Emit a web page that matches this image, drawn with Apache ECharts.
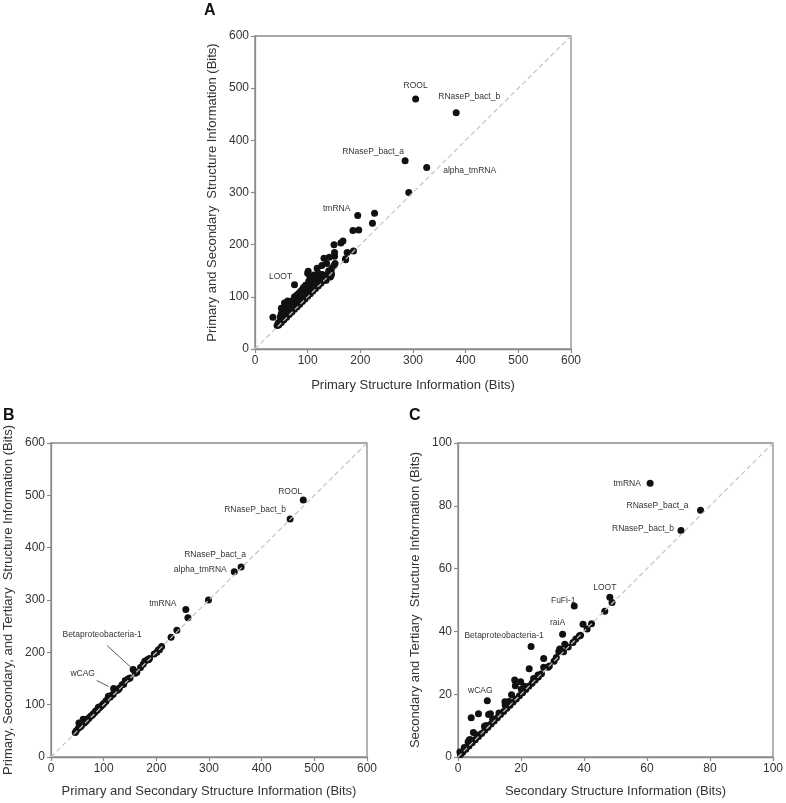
<!DOCTYPE html>
<html>
<head>
<meta charset="utf-8">
<script src="https://cdn.jsdelivr.net/npm/echarts@6/dist/echarts.min.js"></script>
<style>html,body{margin:0;padding:0;background:#fff}#c{width:786px;height:803px}</style>
</head>
<body>
<div id="c"></div>
<script>
// ---------- DATA ----------
const ticks600 = [0, 100, 200, 300, 400, 500, 600];
const ticks100 = [0, 20, 40, 60, 80, 100];

// Panel A: x = primary, y = primary + secondary
const aLabeled = [
  ['ROOL', 305, 479], ['RNaseP_bact_b', 382, 453], ['RNaseP_bact_a', 285, 361],
  ['alpha_tmRNA', 326, 348], ['tmRNA', 195, 256], ['LOOT', 75, 123]
];
const aPoints = [
  [292,300],[227,260],[223,241],[186,227],[197,228],[150,200],[163,203],[167,207],
  [175,185],[187,188],[172,171],[151,185],[151,178],[131,174],[141,176],[150,160],
  [152,164],[136,164],[127,160],[118,155],[101,149],[34,61],
  [104,140],[108,135],[112,142],[115,130],[120,138],[125,135],[128,143],[132,140],
  [135,132],[140,145],[143,138],[118,128],[110,125],[102,130],[106,120],[96,122],
  [92,118],[98,110],[88,112],[84,108],[80,104],[85,100],[78,96],[75,100],[70,92],
  [66,90],[62,92],[60,85],[64,80],[58,78],[55,75],[52,70],[50,68],[48,62],[55,65],
  [60,70],[68,78],[72,85],[80,90],[88,96],[95,102],[102,108],[108,115],[115,120],
  [122,125],[130,132],[138,140],[145,145],
  [45,46],[50,51],[55,56],[60,61],[65,66],[70,71],[75,76],[80,81],[85,86],[90,91],
  [95,96],[100,101],[105,106],[110,111],[115,116],[120,121],[125,126],[130,131],
  [135,136],[140,142],[172,173],
  [48,55],[52,58],[57,62],[62,68],[67,72],[72,78],[77,82],[82,88],[87,92],[92,98],
  [97,103],[103,110],[112,118],[118,125],[124,130],[133,138],[140,150],[146,155],
  [56,88],[62,86],[50,78],[54,72],[70,88],[76,95],[90,108],[95,112],[105,126],
  [110,135],[100,145],[120,145],[145,142],[42,45],[44,50]
];

// Panel B: x = primary + secondary, y = primary + secondary + tertiary
const bLabeled = [
  ['ROOL', 479, 491], ['RNaseP_bact_b', 454, 455], ['RNaseP_bact_a', 361, 363],
  ['alpha_tmRNA', 348, 354], ['tmRNA', 256, 282], ['Betaproteobacteria-1', 156, 167],
  ['wCAG', 119, 131]
];
const bPoints = [
  [299,300],[260,266],[228,229],[239,242],[206,205],[201,200],[187,188],[178,183],
  [183,186],[163,162],[160,160],[109,116],[141,146],[146,149],[135,138],[130,132],
  [125,127],[115,118],[100,102],[95,97],[90,95],[85,88],[80,82],[75,78],[70,73],
  [65,71],[61,72],[53,65],[58,60],[52,55],[48,50],[46,47],[68,70],[72,74],[78,80],
  [83,85],[88,90],[92,94],[98,100],[104,106],[112,114],[118,120],[128,129],[138,139],
  [150,151],[170,171],[175,177],[185,186],[196,197],[204,205],[210,211],[105,108],
  [56,58],[63,65],[66,68]
];

// Panel C: x = secondary, y = secondary + tertiary
const cLabeled = [
  ['tmRNA', 61, 87.2], ['RNaseP_bact_a', 77, 78.6], ['RNaseP_bact_b', 70.8, 72.1],
  ['LOOT', 48.2, 50.9], ['FuFi-1', 36.9, 48.1], ['raiA', 33.2, 39.1],
  ['Betaproteobacteria-1', 23.2, 35.2], ['wCAG', 9.3, 17.9]
];
const cPoints = [
  [48.9,49.2],[46.6,46.4],[39.7,42.3],[42.4,42.4],[41,40.8],[38.9,38.8],[37.4,37.6],
  [33.9,35.9],[32.3,34.4],[32,33.6],[31.2,31.7],[27.2,31.4],[27.2,28.6],[28.6,28.6],
  [25.4,26.1],[22.6,28.1],[18,24.5],[18.2,22.7],[19.9,24],[20.1,21.6],[17,19.8],
  [16.2,17.7],[14.9,17.6],[9.7,13.5],[10.3,13.8],[6.5,13.8],[4.2,12.5],[4.9,7.8],
  [8.4,9.8],[3.6,5.5],[3.2,4.8],[0.6,1.6],[2.3,2.9],
  [0.8,0.8],[1.5,1.5],[2.5,2.5],[3.5,3.5],[4.5,4.5],[5.5,5.5],[6.5,6.5],[7.5,7.5],
  [8.5,8.5],[9.5,9.5],[10.5,10.5],[11.5,11.5],[12.5,12.5],[13.5,13.5],[14.5,14.5],
  [15.5,15.5],[16.5,16.5],[17.5,17.5],[18.5,18.5],[19.5,19.5],[20.5,20.5],[21.5,21.5],
  [22.5,22.5],[23.5,23.5],[24.5,24.5],[25.5,25.5],[26.5,26.5],[29,29],[30.5,30.5],
  [33.5,33.5],[35,35],[36.5,36.5],[38.5,38.5],
  [2,3],[4,5.5],[6,7],[9,10],[11,12],[13,14],[15,16.5],[16,17],[21,22.5],[24,25]
];

// ---------- STYLE / LAYOUT ----------
const FONT = 'Liberation Sans, Arial, sans-serif';
const labelOffsets = {
  a: { 'ROOL':[0,-13], 'RNaseP_bact_b':[13,-16], 'RNaseP_bact_a':[-32,-9],
       'alpha_tmRNA':[43,3], 'tmRNA':[-21,-7], 'LOOT':[-14,-8] },
  b: { 'ROOL':[-13,-8], 'RNaseP_bact_b':[-35,-9], 'RNaseP_bact_a':[-26,-12],
       'alpha_tmRNA':[-34,-2], 'tmRNA':[-23,-6], 'Betaproteobacteria-1':[-31,-35],
       'wCAG':[-31,-15] },
  c: { 'tmRNA':[-23,0], 'RNaseP_bact_a':[-43,-5], 'RNaseP_bact_b':[-38,-2],
       'LOOT':[-5,-10], 'FuFi-1':[-11,-5], 'raiA':[-5,-12],
       'Betaproteobacteria-1':[-27,-11], 'wCAG':[-7,-10] }
};
// leader lines (panel B): pixel offsets of start (from label centre) and end (from point)
const leaderStyle = {
  'Betaproteobacteria-1': { start: [5, 11], end: [-2, -2] },
  'wCAG': { start: [14, 7], end: [-5, -2] }
};

const grids = [
  { left: 255, top: 36, width: 316, height: 313 },
  { left: 51, top: 443, width: 316, height: 314 },
  { left: 458, top: 443, width: 316, height: 314 }
];
const axisColor = '#8a8a8a';

function mkAxis(idx, ticks, name, gap) {
  const max = ticks[ticks.length - 1];
  return {
    type: 'value', gridIndex: idx, min: ticks[0], max: max,
    interval: ticks[1] - ticks[0],
    name: name, nameLocation: 'middle', nameGap: gap,
    nameTextStyle: { fontFamily: FONT, fontSize: 13, color: '#333' },
    axisLine: { show: true, onZero: false, lineStyle: { color: axisColor, width: 1.3 } },
    axisTick: { show: true, length: 4, lineStyle: { color: axisColor, width: 1.2 } },
    axisLabel: { fontFamily: FONT, fontSize: 12, color: '#333', margin: 6 },
    splitLine: { show: false }
  };
}

function mkSeries(idx, key, labeled, pts, max) {
  const data = pts.map(p => ({ value: p }));
  const offs = labelOffsets[key];
  labeled.forEach(l => {
    data.push({
      value: [l[1], l[2]], name: l[0],
      label: { show: true, position: 'inside', formatter: l[0],
               fontFamily: FONT, fontSize: 8.5, color: '#333' }
    });
  });
  return [
    {
      type: 'scatter', xAxisIndex: idx, yAxisIndex: idx, symbolSize: 7,
      itemStyle: { color: '#111', opacity: 1 }, z: 2, data: data,
      labelLayout: function (p) {
        const o = offs[p.text];
        if (o) return { dx: o[0], dy: o[1] };
        return {};
      },
      emphasis: { disabled: true }
    },
    {
      type: 'line', xAxisIndex: idx, yAxisIndex: idx, z: 3, symbol: 'none',
      silent: true, data: [[0, 0], [max, max]],
      lineStyle: { color: '#c4c4c4', width: 1.2, type: [5, 3] }
    }
  ];
}

const letterStyle = { fontFamily: FONT, fontSize: 16, fontWeight: 'bold', color: '#111' };
const option = {
  backgroundColor: '#fff',
  animation: false,
  title: [
    { text: 'A', left: 204, top: 3, padding: 0, textStyle: letterStyle },
    { text: 'B', left: 3, top: 408, padding: 0, textStyle: letterStyle },
    { text: 'C', left: 409, top: 408, padding: 0, textStyle: letterStyle }
  ],
  grid: grids.map(g => Object.assign({ show: true, borderColor: axisColor, borderWidth: 1.3, backgroundColor: 'transparent' }, g)),
  xAxis: [
    mkAxis(0, ticks600, 'Primary Structure Information (Bits)', 30),
    mkAxis(1, ticks600, 'Primary and Secondary Structure Information (Bits)', 28),
    mkAxis(2, ticks100, 'Secondary Structure Information (Bits)', 28)
  ],
  yAxis: [
    mkAxis(0, ticks600, 'Primary and Secondary  Structure Information (Bits)', 36),
    mkAxis(1, ticks600, 'Primary, Secondary, and Tertiary  Structure Information (Bits)', 36),
    mkAxis(2, ticks100, 'Secondary and Tertiary  Structure Information (Bits)', 36)
  ],
  series: [].concat(
    mkSeries(0, 'a', aLabeled, aPoints, 600),
    mkSeries(1, 'b', bLabeled, bPoints, 600),
    mkSeries(2, 'c', cLabeled, cPoints, 100)
  )
};

const chart = echarts.init(document.getElementById('c'), null, { renderer: 'canvas' });
chart.setOption(option);

// leader lines for panel B, positioned through the chart's own scales
const leaders = [];
bLabeled.forEach(l => {
  const st = leaderStyle[l[0]];
  if (!st) return;
  const p = chart.convertToPixel({ gridIndex: 1 }, [l[1], l[2]]);
  const o = labelOffsets.b[l[0]];
  leaders.push({
    type: 'line', silent: true, z: 10,
    shape: { x1: p[0] + o[0] + st.start[0], y1: p[1] + o[1] + st.start[1],
             x2: p[0] + st.end[0], y2: p[1] + st.end[1] },
    style: { stroke: '#333', lineWidth: 0.8 }
  });
});
chart.setOption({ graphic: leaders });
</script>
</body>
</html>
